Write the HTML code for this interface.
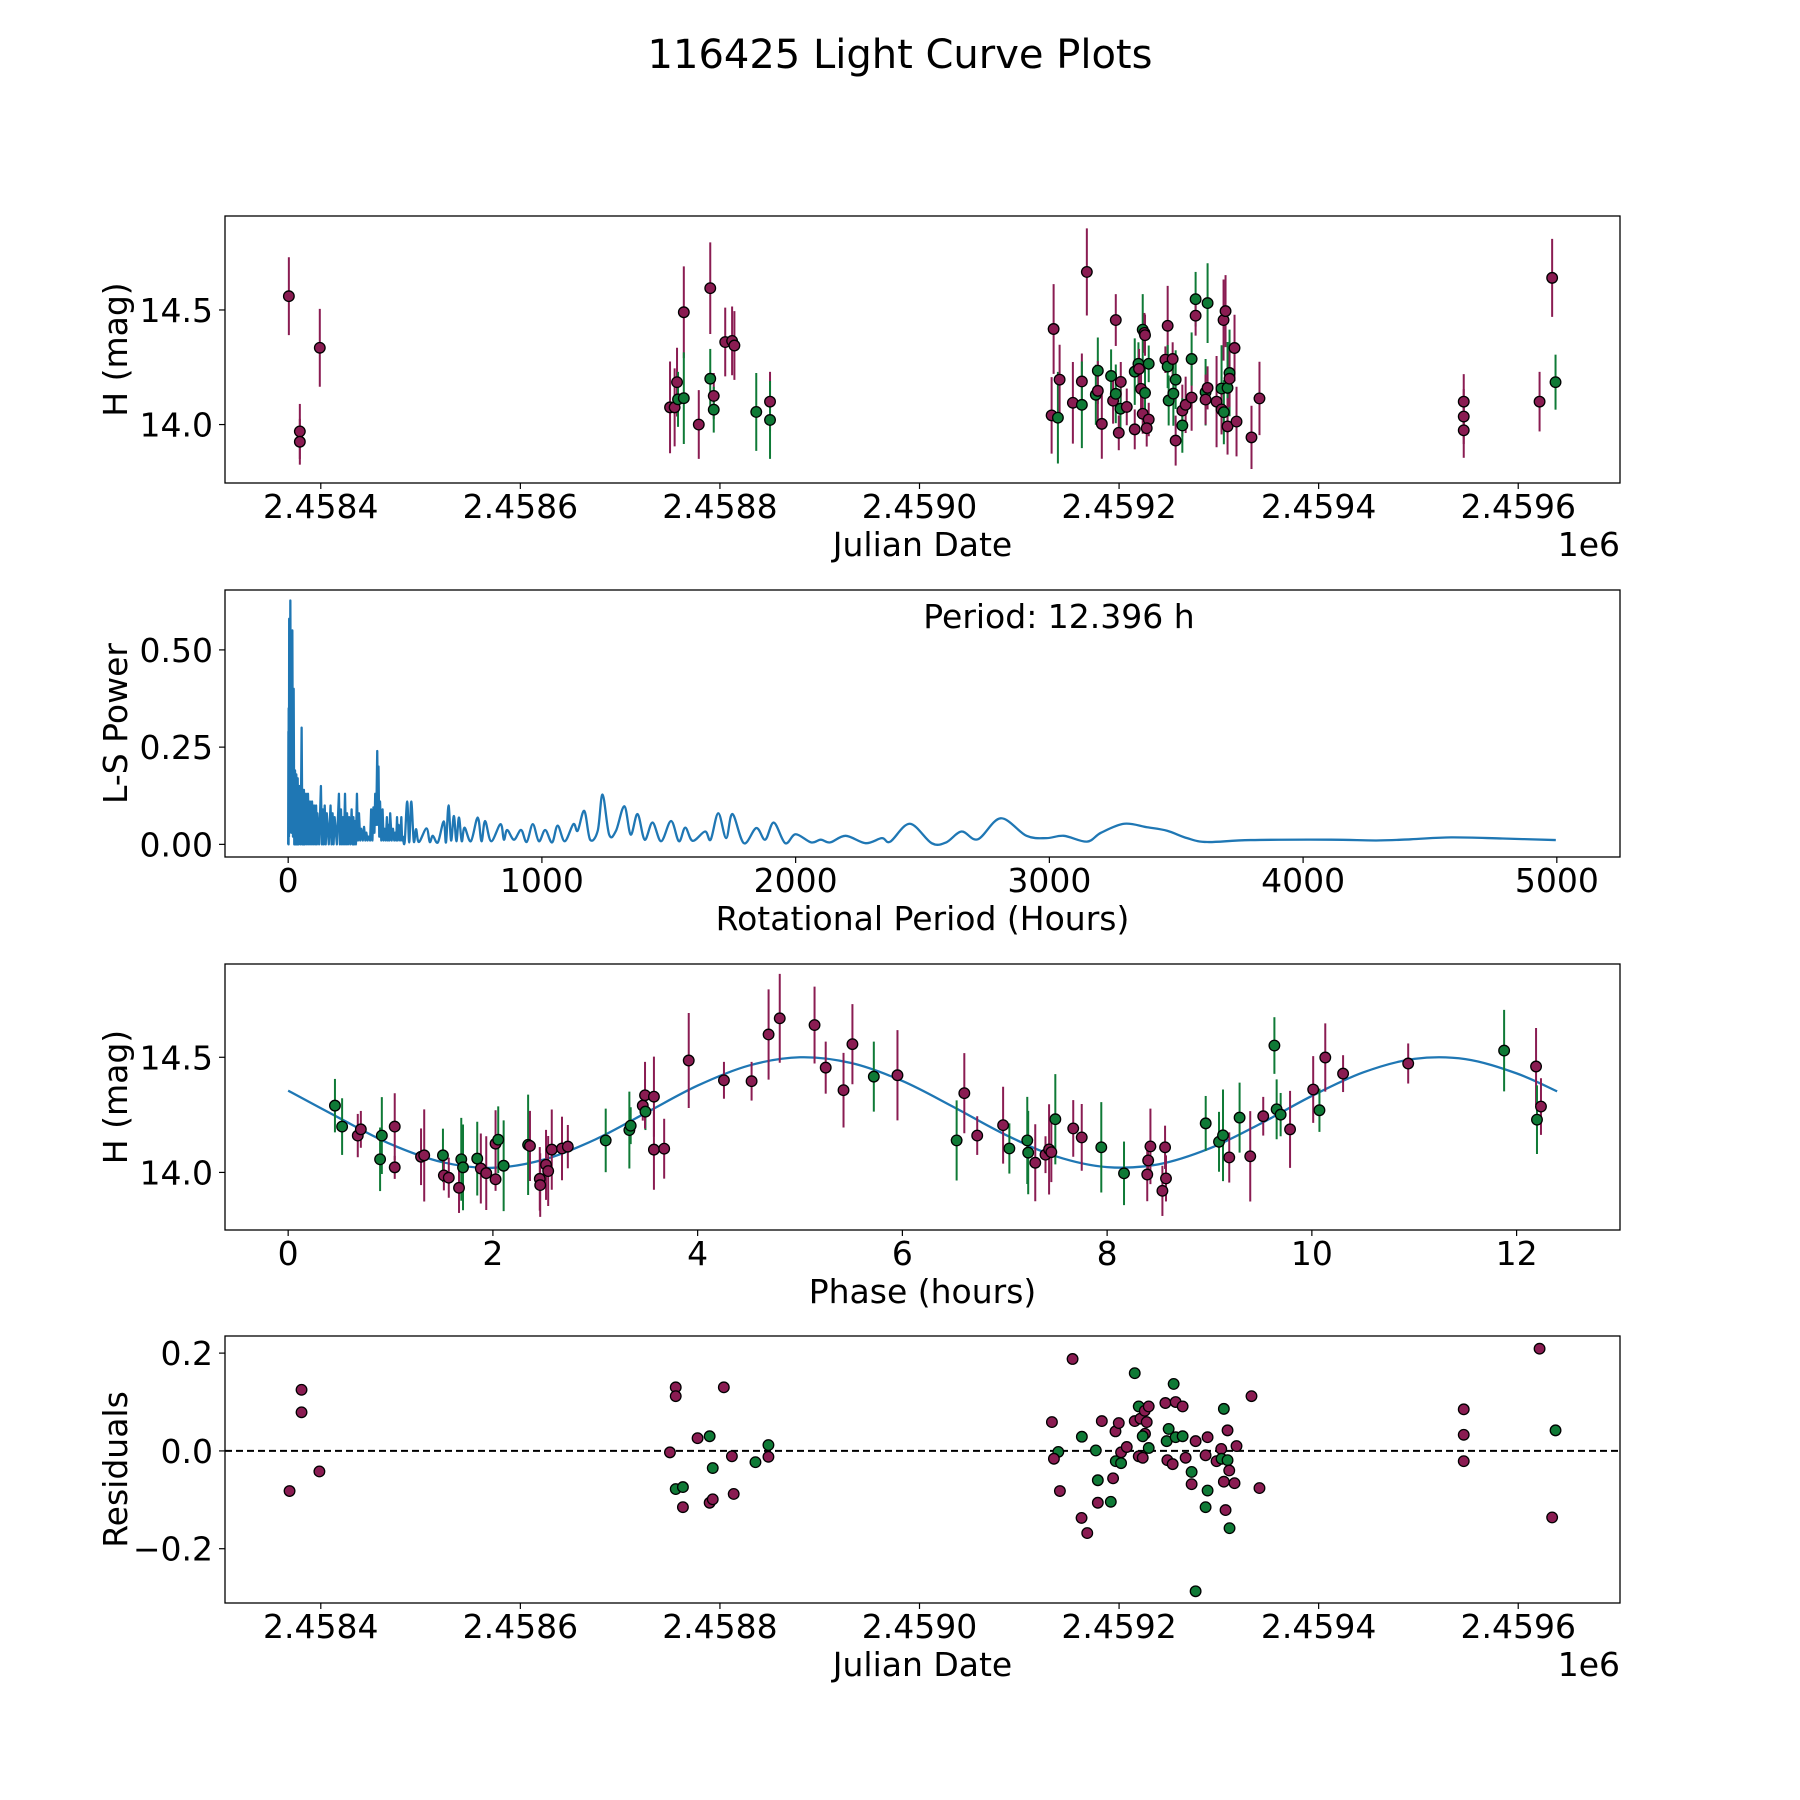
<!DOCTYPE html>
<html><head><meta charset="utf-8"><style>
html,body{margin:0;padding:0;background:#fff;}
svg{display:block;font-family:"DejaVu Sans","Liberation Sans",sans-serif;}
</style></head><body>
<svg id="fig" xmlns="http://www.w3.org/2000/svg" width="1800" height="1800" viewBox="0 0 1800 1800">
<rect width="1800" height="1800" fill="#fff"/>
<text x="900" y="68" font-size="40" text-anchor="middle">116425 Light Curve Plots</text>
</svg>
<script>
// ---- Light curve (JD offset from 2458000) ----
const lcJd = [368,379,379,399,
750,754.6,757,758,763.8,763.8,778.8,790.3,790.3,793.8,793.8,805.3,812.2,814.5,836.4,850.2,850.2,
1134.4,1132.4,1138.7,1140.4,1167.7,1153.7,1162.7,1162.7,1178.7,1176.7,1178.7,1182.7,1196.7,1192,1194,1196.7,1201.7,1201.4,1199.7,1207.7,1215.7,1215.7,1219.4,1220,1222,1223.7,1225.4,1226,1226,1229.7,1223.7,1229.7,1227.7,1248.7,1246.4,1248.7,1253.7,1256.7,1249.7,1254.4,1256.7,1263.4,1263.4,1266.7,1272.7,1272.7,1276.7,1276.7,1288.7,1286.7,1288.7,1286.7,1297.7,1302.7,1302.7,1305,1304.7,1306.7,1308.7,1308.7,1310.7,1310.7,1315.7,1317.7,1332.7,1340.7,
1545.4,1545.4,1545.4,1621.4,1634,1637.4];
const lcMag = [14.56,13.97,13.925,14.335,
14.075,14.075,14.185,14.11,14.49,14.115,14.0,14.595,14.2,14.125,14.065,14.36,14.365,14.345,14.055,14.1,14.02,
14.417,14.04,14.03,14.196,14.666,14.095,14.188,14.086,14.235,14.13,14.147,14.003,14.456,14.212,14.104,14.134,14.186,14.069,13.964,14.077,13.979,14.231,14.265,14.243,14.156,14.414,14.4,14.39,14.138,14.265,14.047,14.022,13.984,14.431,14.283,14.253,14.286,14.196,14.105,14.135,13.93,14.061,13.996,14.086,14.118,14.286,14.547,14.475,14.53,14.141,14.16,14.109,14.1,14.157,14.066,14.054,14.456,14.495,14.16,13.992,14.225,14.2,14.334,14.013,13.944,14.114,
14.1,14.035,13.975,14.1,14.64,14.185];
const lcErr = [0.17,0.12,0.1,0.17,
0.2,0.17,0.15,0.12,0.2,0.2,0.15,0.2,0.13,0.1,0.1,0.15,0.15,0.15,0.17,0.13,0.17,
0.196,0.167,0.2,0.152,0.19,0.178,0.122,0.189,0.145,0.131,0.13,0.152,0.113,0.116,0.1,0.128,0.087,0.087,0.076,0.08,0.087,0.145,0.094,0.087,0.087,0.155,0.087,0.09,0.13,0.08,0.087,0.073,0.08,0.174,0.058,0.094,0.073,0.128,0.109,0.14,0.109,0.113,0.119,0.123,0.145,0.116,0.119,0.087,0.174,0.145,0.094,0.109,0.199,0.189,0.109,0.14,0.177,0.157,0.2,0.123,0.189,0.123,0.145,0.152,0.138,0.16,
0.12,0.12,0.12,0.13,0.17,0.12];
const lcBand = "mmmm"+"mmmgmgmmgmgmmmgmg"+"mmgmmmmggg"+"mmmgmgmgmm"+"mggmmgmmgg"+"mmmmmgmggg"+"mmgmmggmgg"+"mmmgmgmmgm"+"gmmmmm"+"mmmmmg";

// ---- Periodogram (dense part) ----
const lsPeriodA = [0,1,1.5,2,3,4,6,8.5,12,16.4,
19,21.6,24,27,29,32,35,37.4,41,45,
49,53,56,58,60,62,66,70,74,78,
82,86,90,94,98,102,106,110,113,115,
122,129,133,137,140,144,148,152,160,167,
171,175,179,183,192,200,204,208,212,216,
220,224,228,232,236,240,245,250,254,257,
260,263,267,271,275,279,284,288,294,299,
304,308,313,318,323,327,332,336,340,343,
347,351,354,356,359,362,367,372,376,380,
385,389,393,396,399,402,408,413,418,422,
426,429,432,435,441,446,449];
const lsPowerA = [0,0.29,0,0.35,0.02,0.58,0.05,0.627,0.03,0.55,
0.02,0.40,0,0.19,0,0.18,0,0.17,0,0.15,
0,0.30,0,0.14,0,0.14,0,0.13,0,0.13,
0,0.11,0,0.11,0,0.10,0,0.10,0,0.08,
0,0.15,0,0.09,0,0.10,0,0.08,0,0.10,
0,0.08,0,0.07,0,0.13,0,0.09,0,0.07,
0,0.13,0,0.08,0,0.07,0,0.09,0,0.07,
0,0.06,0,0.13,0.01,0.08,0.01,0.04,0.01,0.045,
0.01,0.03,0.01,0.02,0.01,0.09,0.01,0.095,0.03,0.13,
0.05,0.24,0.05,0.2,0.02,0.11,0.01,0.09,0.01,0.04,
0.01,0.07,0.01,0.05,0.01,0.08,0.01,0.04,0.01,0.03,
0.01,0.07,0.01,0.05,0.01,0.07,0.01];
// ---- Periodogram (smooth part) ----
const lsPeriodB = [452,459,469,477,485,495,504,515,545,558,
570,590,613,622,632,642,653,663,673,684,
695,720,747,762,776,800,837,850,863,890,
918,940,964,988,1013,1040,1062,1090,1124,1141,
1167,1190,1220,1239,1265,1292,1325,1350,1377,1405,
1436,1470,1509,1540,1565,1594,1643,1665,1695,1726,
1751,1796,1845,1880,1914,1959,2000,2061,2099,2136,
2197,2276,2340,2373,2450,2536,2593,2654,2718,2808,
2910,2989,3057,3148,3204,3295,3385,3464,3543,3622,
3792,4108,4289,4424,4583,4786,4996];
const lsPowerB = [0.02,0.005,0.11,0.005,0.11,0.008,0.039,0.006,0.041,0.006,
0.022,0.005,0.059,0.005,0.1,0.01,0.073,0.008,0.069,0.008,
0.043,0.008,0.069,0.008,0.06,0.008,0.052,0.012,0.037,0.012,
0.037,0.006,0.052,0.008,0.037,0.005,0.048,0.008,0.052,0.035,
0.086,0.012,0.035,0.128,0.025,0.035,0.098,0.025,0.078,0.012,
0.056,0.008,0.06,0.008,0.043,0.009,0.033,0.012,0.08,0.016,
0.078,0.003,0.042,0.012,0.056,0.003,0.026,0.005,0.012,0.005,
0.022,0.003,0.016,0.007,0.053,0.003,0.005,0.033,0.013,0.067,
0.022,0.016,0.022,0.007,0.03,0.053,0.044,0.035,0.016,0.006,
0.011,0.012,0.01,0.013,0.018,0.015,0.011];

// ---- Phase-folded ----
const phX = [0.457,0.527,0.68,0.71,0.915,0.898,1.041,1.041,1.298,1.329,1.512,1.521,1.569,1.669,1.691,1.708,1.847,1.882,1.935,2.026,2.026,2.052,2.105,2.344,2.362,2.458,2.462,2.519,2.54,2.575,2.675,2.732,3.102,3.333,3.346,3.464,3.49,3.486,3.573,3.573,3.673,3.913,4.257,4.527,4.693,4.802,5.142,5.251,5.425,5.512,5.721,5.952,
6.53,6.605,6.731,6.984,7.045,7.22,7.229,7.298,7.398,7.433,7.455,7.494,7.669,7.752,7.943,8.165,8.392,8.401,8.423,8.566,8.575,8.54,8.963,9.093,9.132,9.193,9.294,9.398,9.525,9.634,9.656,9.695,9.787,10.013,10.074,10.131,10.305,10.941,11.878,12.19,12.238,12.199];
const phMag = [14.29,14.199,14.16,14.187,14.16,14.057,14.199,14.022,14.068,14.074,14.074,13.987,13.977,13.933,14.057,14.022,14.06,14.017,13.997,13.97,14.125,14.142,14.029,14.12,14.115,13.972,13.945,14.033,14.006,14.099,14.104,14.112,14.139,14.184,14.203,14.29,14.264,14.335,14.329,14.099,14.103,14.486,14.4,14.396,14.599,14.669,14.64,14.455,14.357,14.557,14.416,14.422,
14.139,14.344,14.16,14.205,14.104,14.139,14.086,14.042,14.077,14.1,14.088,14.231,14.191,14.152,14.109,13.996,13.991,14.052,14.113,14.109,13.974,13.92,14.213,14.133,14.161,14.065,14.238,14.07,14.244,14.551,14.274,14.251,14.187,14.36,14.27,14.499,14.429,14.473,14.529,14.46,14.286,14.229];
const phErr = [0.116,0.123,0.094,0.08,0.167,0.138,0.145,0.05,0.123,0.2,0.116,0.065,0.087,0.109,0.18,0.186,0.16,0.152,0.16,0.05,0.145,0.145,0.197,0.218,0.152,0.138,0.138,0.152,0.152,0.174,0.138,0.094,0.138,0.167,0.08,0.065,0.08,0.145,0.174,0.174,0.13,0.206,0.08,0.084,0.196,0.193,0.167,0.113,0.162,0.174,0.152,0.196,
0.174,0.174,0.084,0.167,0.109,0.189,0.181,0.167,0.08,0.196,0.13,0.196,0.123,0.145,0.196,0.138,0.116,0.065,0.164,0.094,0.1,0.109,0.119,0.13,0.199,0.109,0.152,0.196,0.084,0.123,0.13,0.094,0.167,0.145,0.094,0.148,0.08,0.087,0.177,0.167,0.123,0.149];
const phBand = "ggmmggmmmm"+"gmmmgggmmm"+"mgggmmmmmm"+"mmgggmgmmm"+"mmmmmmmmmmgm"+"gmmmgggmmm"+"mgmmggmmmm"+"mmgggmgmmg"+"ggmmgmmmgmmg";
const fitX = [0,0.5,1,1.5,2,2.5,3,3.5,4,4.5,5,5.5,6,6.5,7,7.5,8,8.5,9,9.5,10,10.5,11,11.5,12,12.396];
const fitMag = [14.355,14.236,14.123,14.045,14.02,14.056,14.143,14.26,14.377,14.464,14.5,14.475,14.397,14.284,14.165,14.07,14.023,14.035,14.104,14.212,14.332,14.434,14.493,14.492,14.43,14.352];

// ---- Residuals ----
const rsJd = [368.7,380.7,380.7,398.6,749.9,755.7,755.7,755.7,762.9,762.9,777.6,789.7,789.7,792.8,792.8,803.9,812,813.8,835.6,848.6,848.6,
1132.7,1139.1,1134.7,1140.7,1153.4,1162.7,1162.4,1168.1,1176.7,1178.7,1178.7,1182.7,1191.7,1194,1196.4,1196.7,1199.7,1202,1202,1207.7,1215.7,1215.7,1219.7,1221.4,1225.7,1229.7,1227.7,1226,1223.7,1219.7,1223.7,1229.7,1246.4,1254.7,1256.7,1263.7,1249.7,1247.7,1256.7,1263.7,1248.4,1253.7,1266.7,1272.7,1272.7,1276.7,1276.7,1286.7,1288.7,1288.7,1286.7,1297.7,1302.4,1302.7,1305,1308.7,1308.7,1310.4,1305,1306.7,1310.7,1315.7,1317.7,1332.7,1340.7,
1545.4,1545.4,1545.4,1621.4,1634,1637.4];
const rsVal = [-0.082,0.125,0.079,-0.042,-0.003,0.13,0.112,-0.078,-0.074,-0.115,0.026,0.03,-0.106,-0.099,-0.035,0.13,-0.011,-0.088,-0.023,0.012,-0.012,
0.059,-0.002,-0.016,-0.082,0.188,0.029,-0.137,-0.168,0.001,-0.06,-0.106,0.061,-0.104,-0.056,0.04,-0.021,0.057,-0.025,-0.003,0.008,0.159,0.061,0.091,0.066,0.082,0.091,0.059,0.035,0.03,-0.011,-0.014,0.006,0.098,0.137,0.1,0.091,0.045,0.02,0.028,0.03,-0.019,-0.027,-0.014,-0.043,-0.068,0.02,-0.287,-0.009,0.028,-0.081,-0.115,-0.021,0.004,-0.016,0.086,0.042,-0.019,-0.04,-0.063,-0.121,-0.158,-0.066,0.01,0.112,-0.076,
0.085,0.033,-0.021,0.209,-0.136,0.042];
const rsBand = "mmmmmmmggmmgmmgmmmggm"+"mgmmmgmmgg"+"mmgmmgmgmm"+"gmgmmmmmgm"+"mgmgmmgggg"+"mmmgmmgmmg"+"gmmggmgmmm"+"gmmmm"+"mmmmmg";

// ---- Ticks ----
const jdTicks = [2458400,2458600,2458800,2459000,2459200,2459400,2459600];
const jdTickLabels = ["2.4584","2.4586","2.4588","2.4590","2.4592","2.4594","2.4596"];
const magTicks = [14.0,14.5];
const magTickLabels = ["14.0","14.5"];
const perTicks = [0,1000,2000,3000,4000,5000];
const perTickLabels = ["0","1000","2000","3000","4000","5000"];
const powTicks = [0,0.25,0.5];
const powTickLabels = ["0.00","0.25","0.50"];
const phTicks = [0,2,4,6,8,10,12];
const phTickLabels = ["0","2","4","6","8","10","12"];
const resTicks = [-0.2,0,0.2];
const resTickLabels = ["\u22120.2","0.0","0.2"];

const NS="http://www.w3.org/2000/svg";
const svg=document.getElementById('fig');
const MAG='#8a1c52', GRN='#0f7a36', BLUE='#1f77b4';
function el(tag,attrs,parent){const e=document.createElementNS(NS,tag);for(const k in attrs)e.setAttribute(k,attrs[k]);(parent||svg).appendChild(e);return e;}
function lin(d0,d1,r0,r1){return v=>r0+(v-d0)/(d1-d0)*(r1-r0);}
const L=225,R=1620;

function axes(name,top,bot,xdom,ydom,xt,xtl,yt,ytl,xlabel,ylabel,offsetText){
  const g=el('g',{});
  
  
  const sx=lin(xdom[0],xdom[1],L,R), sy=lin(ydom[0],ydom[1],bot,top);
  const clip='clip-'+name;
  const cp=el('clipPath',{id:clip},g);el('rect',{x:L,y:top,width:R-L,height:bot-top},cp);
  const plot=el('g',{'clip-path':'url(#'+clip+')'},g);
  
  
  xt.forEach((t,i)=>{const x=sx(t);
    el('line',{x1:x,x2:x,y1:bot,y2:bot+6,stroke:'#000','stroke-width':1.2},g);
    const tx=el('text',{x:x,y:bot+35,'font-size':33,'text-anchor':'middle'},g);tx.textContent=xtl[i];
    
    });
  yt.forEach((t,i)=>{const y=sy(t);
    el('line',{x1:L,x2:L-6,y1:y,y2:y,stroke:'#000','stroke-width':1.2},g);
    const tx=el('text',{x:L-12,y:y+12,'font-size':33,'text-anchor':'end'},g);tx.textContent=ytl[i];
    
    });
  const xl=el('text',{x:(L+R)/2,y:bot+73,'font-size':33,'text-anchor':'middle'},g);xl.textContent=xlabel;
  
  
  const cy=(top+bot)/2;
  const yl=el('text',{x:127,y:cy,'font-size':33,'text-anchor':'middle',transform:'rotate(-90 127 '+cy+')'},g);yl.textContent=ylabel;
  
  
  if(offsetText){const o=el('text',{x:R,y:bot+73,'font-size':33,'text-anchor':'end'},g);o.textContent=offsetText;
    
    }
  return {g,plot,sx,sy,top,bot};
}
function frame(a){const f=el('rect',{x:L,y:a.top,width:R-L,height:a.bot-a.top,fill:'none',stroke:'#000','stroke-width':1.3},a.g);
  
  }
function points(a,xs,ys,es,band,name){
  xs.forEach((x,i)=>{const c=band[i]==='g'?GRN:MAG;const px=a.sx(x);
    if(es){const ln=el('line',{x1:px,x2:px,y1:a.sy(ys[i]+es[i]),y2:a.sy(ys[i]-es[i]),stroke:c,'stroke-width':2},a.plot);
      
      }
  });
  xs.forEach((x,i)=>{const c=band[i]==='g'?GRN:MAG;
    const d=el('circle',{cx:a.sx(x),cy:a.sy(ys[i]),r:5.3,fill:c,stroke:'#000','stroke-width':1.3},a.plot);
    
    });
}
function smoothPath(pts){
  let s='';
  for(let i=0;i<pts.length-1;i++){const p0=pts[Math.max(0,i-1)],p1=pts[i],p2=pts[i+1],p3=pts[Math.min(pts.length-1,i+2)];
    s+='C'+(p1[0]+(p2[0]-p0[0])/6).toFixed(2)+','+(p1[1]+(p2[1]-p0[1])/6).toFixed(2)+' '+(p2[0]-(p3[0]-p1[0])/6).toFixed(2)+','+(p2[1]-(p3[1]-p1[1])/6).toFixed(2)+' '+p2[0].toFixed(2)+','+p2[1].toFixed(2);}
  return s;
}

// Panel 1
const a1=axes('light-curve-panel',216,483,[2458304,2459702],[13.745,14.91],jdTicks,jdTickLabels,magTicks,magTickLabels,'Julian Date','H (mag)','1e6');
points(a1,lcJd.map(v=>v+2458000),lcMag,lcErr,lcBand,'light-curve');
frame(a1);

// Panel 2
const a2=axes('periodogram-panel',590,857,[-249,5249],[-0.0325,0.654],perTicks,perTickLabels,powTicks,powTickLabels,'Rotational Period (Hours)','L-S Power',null);
let d='';lsPeriodA.forEach((p,i)=>{d+=(i?'L':'M')+a2.sx(p).toFixed(2)+','+a2.sy(lsPowerA[i]).toFixed(2);});
const bpts=lsPeriodB.map((p,i)=>[a2.sx(p),a2.sy(lsPowerB[i])]);
d+='L'+bpts[0][0].toFixed(2)+','+bpts[0][1].toFixed(2)+smoothPath(bpts);
const pl=el('path',{d:d,fill:'none',stroke:BLUE,'stroke-width':2.3,'stroke-linejoin':'round'},a2.plot);


const pt=el('text',{x:1059,y:628,'font-size':33,'text-anchor':'middle'},a2.g);pt.textContent='Period: 12.396 h';


frame(a2);

// Panel 3
const a3=axes('phase-panel',964,1230,[-0.617,13.01],[13.75,14.905],phTicks,phTickLabels,magTicks,magTickLabels,'Phase (hours)','H (mag)',null);
const fpts=fitX.map((x,i)=>[a3.sx(x),a3.sy(fitMag[i])]);
const fd='M'+fpts[0][0].toFixed(2)+','+fpts[0][1].toFixed(2)+smoothPath(fpts);
const fl=el('path',{d:fd,fill:'none',stroke:BLUE,'stroke-width':2.3},a3.plot);


points(a3,phX,phMag,phErr,phBand,'phase');
frame(a3);

// Panel 4
const a4=axes('residuals-panel',1336,1603,[2458304,2459702],[-0.311,0.235],jdTicks,jdTickLabels,resTicks,resTickLabels,'Julian Date','Residuals','1e6');
const zl=el('line',{x1:L,x2:R,y1:a4.sy(0),y2:a4.sy(0),stroke:'#000','stroke-width':2,'stroke-dasharray':'7,4'},a4.plot);


points(a4,rsJd.map(v=>v+2458000),rsVal,null,rsBand,'residual');
frame(a4);
</script>
</body></html>
